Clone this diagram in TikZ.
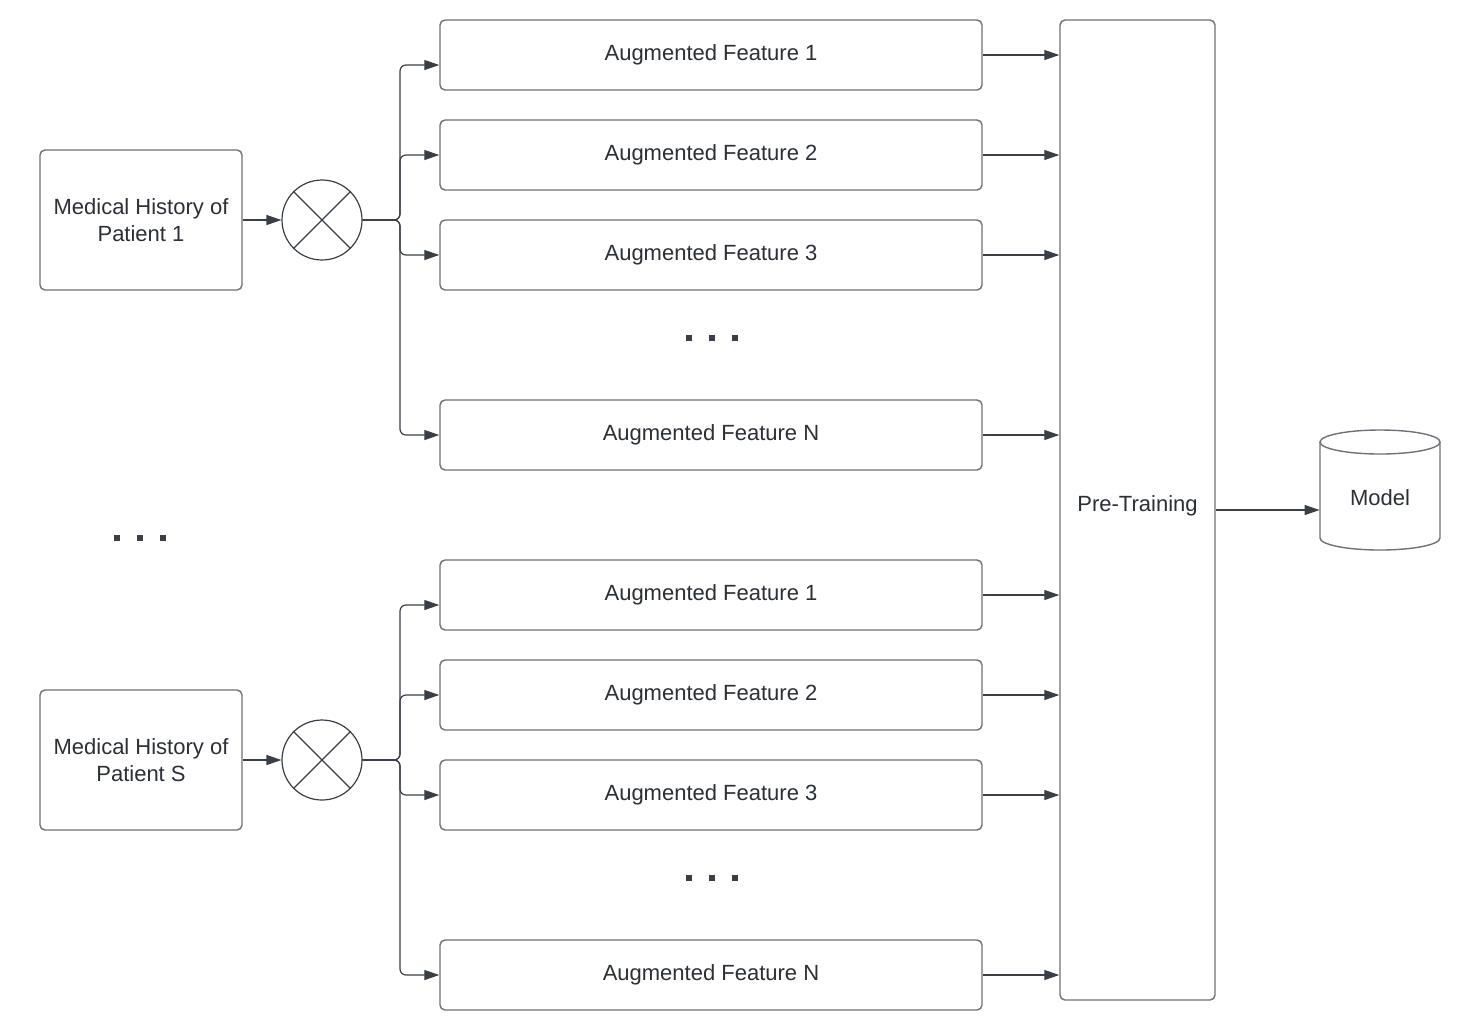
\documentclass[tikz,border=0pt]{standalone}
\usepackage{fontspec}
\setmainfont{Liberation Sans}
\usetikzlibrary{arrows.meta,calc}
\definecolor{bordc}{HTML}{6E7177}
\definecolor{linec}{HTML}{3A3F47}
\definecolor{txtc}{HTML}{2B2F36}
\tikzset{
  bord/.style={draw=bordc, line width=0.7pt},
  fbox/.style={bord, rounded corners=2.5pt, minimum width=271pt, minimum height=35pt, inner sep=0pt, text=txtc, font=\fontsize{11}{13.5}\selectfont},
  pbox/.style={bord, rounded corners=2.5pt, minimum width=101pt, minimum height=70pt, inner sep=0pt, text=txtc, align=center, font=\fontsize{11}{13.5}\selectfont},
  mult/.style={circle, draw=linec, line width=0.6pt, minimum size=40pt, inner sep=0pt},
  conn/.style={draw=linec, line width=0.6pt, -{Triangle[length=7.5pt,width=5pt]}},
  bus/.style={conn, rounded corners=3pt},
  dotsq/.style={fill=linec, minimum size=2.6pt, inner sep=0pt},
  lbl/.style={text=txtc, font=\fontsize{11}{13.5}\selectfont, inner sep=0pt}
}
\begin{document}
\begin{tikzpicture}[x=0.5pt,y=-0.5pt]
\useasboundingbox (0,0) rectangle (1460,1030);
\fill[white] (0,0) rectangle (1460,1030);

% patients
\node[pbox] (p1) at (141,220) {Medical History of\\Patient 1};
\node[pbox] (ps) at (141,760) {Medical History of\\Patient S};
\node[mult] (c1) at (322,220) {};
\node[mult] (cs) at (322,760) {};
\foreach \c in {c1,cs}{
  \draw[draw=linec, line width=0.6pt] (\c.45) -- (\c.225) (\c.135) -- (\c.315);
}
\draw[conn] (p1.east) -- (c1.west);
\draw[conn] (ps.east) -- (cs.west);

% feature boxes
\node[fbox] (a1) at (711,55) {Augmented Feature 1};
\node[fbox] (a2) at (711,155) {Augmented Feature 2};
\node[fbox] (a3) at (711,255) {Augmented Feature 3};
\node[fbox] (an) at (711,435) {Augmented Feature N};
\node[fbox] (b1) at (711,595) {Augmented Feature 1};
\node[fbox] (b2) at (711,695) {Augmented Feature 2};
\node[fbox] (b3) at (711,795) {Augmented Feature 3};
\node[fbox] (bn) at (711,975) {Augmented Feature N};

% pre-training and model
\node[bord, rounded corners=2.5pt, minimum width=77.5pt, minimum height=490pt, inner sep=0pt] (pre) at (1137.5,510) {};
\node[lbl] (pretxt) at (1137.5,506) {Pre-Training};

\node[inner sep=0pt, minimum width=60pt, minimum height=60pt] (model) at (1380,490) {};
\draw[bord] (1320,442) -- (1320,538) arc[start angle=180, end angle=0, x radius=60, y radius=12] -- (1440,442);
\draw[bord] (1380,442) ellipse [x radius=60, y radius=12];
\node[lbl] (modeltxt) at (1380,498) {Model};

% buses
\draw[bus] (c1.east) -- (400,220) |- ($(a1.west)+(0,10)$);
\draw[bus] (c1.east) -- (400,220) |- (a2.west);
\draw[bus] (c1.east) -- (400,220) |- (a3.west);
\draw[bus] (c1.east) -- (400,220) |- (an.west);
\draw[bus] (cs.east) -- (400,760) |- ($(b1.west)+(0,10)$);
\draw[bus] (cs.east) -- (400,760) |- (b2.west);
\draw[bus] (cs.east) -- (400,760) |- (b3.west);
\draw[bus] (cs.east) -- (400,760) |- (bn.west);

% to pre-training
\foreach \f in {a1,a2,a3,an,b1,b2,b3,bn}{
  \draw[conn] (\f.east) -- (\f.east -| pre.west);
}
\draw[conn] (pre.east) -- (pre.east -| model.west);

% dots
\foreach \x in {689,712,735}{
  \node[dotsq] (du\x) at (\x,338) {};
  \node[dotsq] (dl\x) at (\x,878) {};
}
\foreach \x in {117,140,163}{
  \node[dotsq] (dp\x) at (\x,538) {};
}
\end{tikzpicture}
\end{document}
